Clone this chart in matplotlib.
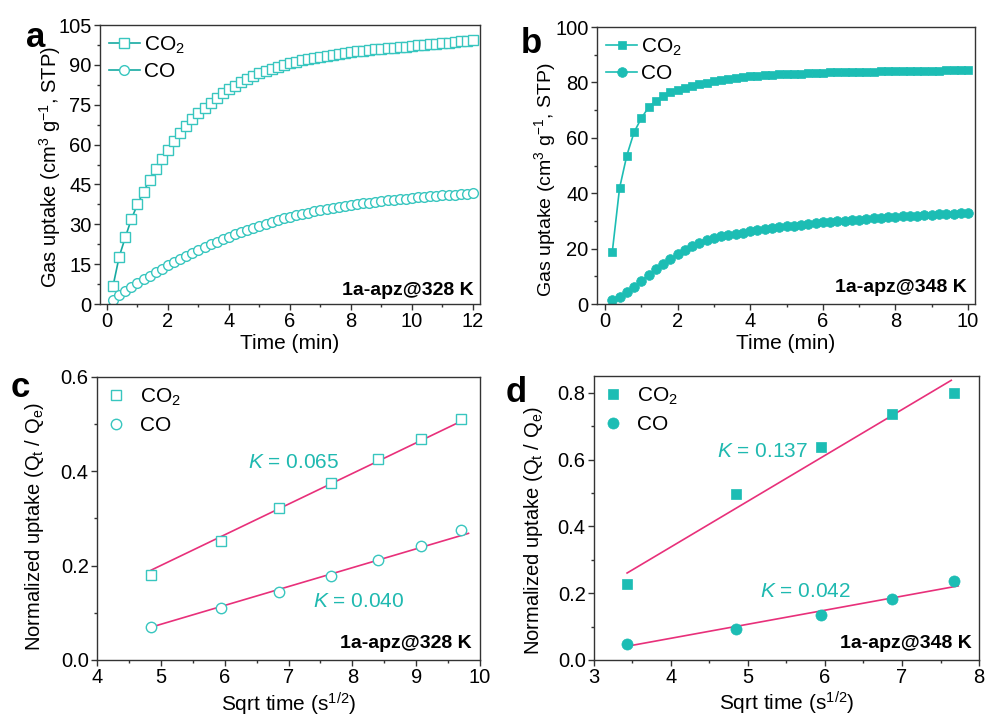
import numpy as np
import matplotlib
matplotlib.use("Agg")
import matplotlib.pyplot as plt
from matplotlib.ticker import MultipleLocator, FormatStrFormatter

plt.rcParams["font.family"] = ["Liberation Sans", "DejaVu Sans"]
plt.rcParams["mathtext.fontset"] = "custom"
plt.rcParams["mathtext.rm"] = "Liberation Sans"
plt.rcParams["mathtext.it"] = "Liberation Sans:italic"
plt.rcParams["mathtext.bf"] = "Liberation Sans:bold"

# ---------------- data ----------------
# (a) uptake kinetics at 328 K, sampled every 0.2 min
time_328 = np.round(np.arange(0.2, 12.01, 0.2), 1)
co2_328 = [6.9, 17.8, 25.1, 32.0, 37.5, 42.3, 46.7, 50.8, 54.6, 58.0,
           61.5, 64.5, 67.1, 69.6, 71.8, 73.9, 75.8, 77.7, 79.3, 80.8,
           82.2, 83.4, 84.7, 85.8, 86.8, 87.8, 88.6, 89.3, 90.0, 90.6,
           91.2, 91.7, 92.2, 92.7, 93.1, 93.5, 93.9, 94.2, 94.5, 94.8,
           95.1, 95.4, 95.6, 95.9, 96.1, 96.3, 96.5, 96.7, 96.9, 97.1,
           97.3, 97.5, 97.7, 97.9, 98.1, 98.3, 98.6, 98.9, 99.1, 99.4]
co_328 = [1.5, 3.4, 5.0, 6.5, 8.0, 9.4, 10.7, 12.0, 13.3, 14.5,
          15.7, 16.9, 18.0, 19.1, 20.2, 21.3, 22.4, 23.4, 24.4, 25.4,
          26.3, 27.1, 27.9, 28.7, 29.4, 30.1, 30.8, 31.5, 32.2, 32.9,
          33.4, 33.9, 34.4, 34.9, 35.3, 35.7, 36.1, 36.5, 36.9, 37.3,
          37.6, 37.9, 38.2, 38.5, 38.8, 39.1, 39.3, 39.5, 39.7, 39.9,
          40.1, 40.3, 40.5, 40.7, 40.9, 41.0, 41.2, 41.3, 41.5, 41.7]

# (b) uptake kinetics at 348 K, sampled every 0.2 min
time_348 = np.round(np.arange(0.2, 10.01, 0.2), 1)
co2_348 = [18.8, 41.8, 53.6, 62.0, 67.1, 71.0, 73.4, 75.0, 76.4, 77.3,
           78.0, 78.7, 79.3, 79.9, 80.4, 80.9, 81.3, 81.7, 82.0, 82.3,
           82.5, 82.7, 82.8, 82.9, 83.0, 83.1, 83.2, 83.3, 83.4, 83.5,
           83.6, 83.6, 83.7, 83.8, 83.8, 83.9, 83.9, 84.0, 84.0, 84.1,
           84.1, 84.2, 84.2, 84.3, 84.3, 84.3, 84.4, 84.4, 84.4, 84.5]
co_348 = [1.6, 2.6, 4.4, 6.3, 8.4, 10.6, 12.6, 14.5, 16.3, 18.0,
          19.5, 20.9, 22.1, 23.0, 23.8, 24.4, 24.9, 25.4, 25.8, 26.2,
          26.6, 27.0, 27.3, 27.7, 28.0, 28.3, 28.6, 28.9, 29.2, 29.5,
          29.7, 29.9, 30.1, 30.3, 30.5, 30.7, 30.9, 31.1, 31.3, 31.5,
          31.6, 31.8, 31.9, 32.1, 32.2, 32.4, 32.5, 32.6, 32.8, 32.9]

# (c) normalized uptake vs sqrt(t) at 328 K
sqrt_t_328 = [4.85, 5.94, 6.85, 7.67, 8.40, 9.07, 9.70]
norm_co2_328 = [0.180, 0.253, 0.322, 0.376, 0.427, 0.469, 0.512]
norm_co_328 = [0.069, 0.110, 0.144, 0.178, 0.211, 0.242, 0.275]
k_co2_328, k_co_328 = 0.065, 0.040

# (d) normalized uptake vs sqrt(t) at 348 K
sqrt_t_348 = [3.43, 4.85, 5.95, 6.87, 7.68]
norm_co2_348 = [0.226, 0.498, 0.636, 0.737, 0.798]
norm_co_348 = [0.049, 0.092, 0.134, 0.182, 0.237]
k_co2_348, k_co_348 = 0.137, 0.042

# ---------------- style ----------------
TEAL = "#1CBDB4"
TEAL_EDGE = "#38C6BF"
TEAL_LINE = "#17AAA2"
TEAL_TEXT = "#1FB9B0"
PINK = "#E8307A"
SPINE = "#333333"
FS_TICK = 14.5
FS_LABEL = 15
FS_LEG = 15
FS_TAG = 14
NORM_LABEL = r"Normalized uptake (Q$_\mathrm{t}$ / Q$_\mathrm{e}$)"
UPTAKE_LABEL = "Gas uptake (cm$^3$ g$^{-1}$, STP)"

fig = plt.figure(figsize=(9.87, 7.17), dpi=100)
ax_a = fig.add_axes([0.1013, 0.5760, 0.3850, 0.3891])
ax_b = fig.add_axes([0.6049, 0.5760, 0.3829, 0.3863])
ax_c = fig.add_axes([0.0983, 0.0795, 0.3880, 0.3947])
ax_d = fig.add_axes([0.6018, 0.0795, 0.3901, 0.3961])


def style_axes(ax, xmaj, xmin, ymaj, ymin):
    for sp in ax.spines.values():
        sp.set_color(SPINE)
        sp.set_linewidth(1.0)
    ax.xaxis.set_major_locator(MultipleLocator(xmaj))
    ax.xaxis.set_minor_locator(MultipleLocator(xmin))
    ax.yaxis.set_major_locator(MultipleLocator(ymaj))
    ax.yaxis.set_minor_locator(MultipleLocator(ymin))
    ax.tick_params(which="both", direction="out", top=False, right=False,
                   color=SPINE, width=1.0, labelsize=FS_TICK)
    ax.tick_params(which="major", length=4.0, pad=2.0)
    ax.tick_params(which="minor", length=2.2)


def fit_intercept(x, y, k):
    # least-squares intercept for the fixed slope k
    return np.mean(y) - k * np.mean(x)


def add_legend(ax, handlelength, textpad, spacing):
    ax.legend(loc="upper left", bbox_to_anchor=(0.0, 1.0), frameon=False,
              fontsize=FS_LEG, handlelength=handlelength,
              handletextpad=textpad, labelspacing=spacing,
              borderpad=0.25, borderaxespad=0.2)


# ---- (a)
ax_a.plot(time_328, co2_328, "-", color=TEAL_LINE, lw=1.2, marker="s", ms=6.6,
          mfc="white", mec=TEAL_EDGE, mew=1.0, label="CO$_2$")
ax_a.plot(time_328, co_328, "-", color=TEAL_LINE, lw=1.2, marker="o", ms=7.0,
          mfc="white", mec=TEAL_EDGE, mew=1.0, label="CO")
ax_a.set_xlim(-0.23, 12.23)
ax_a.set_ylim(0, 105)
style_axes(ax_a, 2, 1, 15, 7.5)
ax_a.set_xlabel("Time (min)", fontsize=FS_LABEL)
ax_a.set_ylabel(UPTAKE_LABEL, fontsize=14.5)
ax_a.xaxis.set_label_coords(0.5, -0.108)
ax_a.yaxis.set_label_coords(-0.097, 0.49)
add_legend(ax_a, 1.45, 0.2, 0.3)
ax_a.text(0.982, 0.032, "1a-apz@328 K", transform=ax_a.transAxes,
          ha="right", va="baseline", fontsize=FS_TAG, fontweight="bold")

# ---- (b)
ax_b.plot(time_348, co2_348, "-", color=TEAL, lw=1.2, marker="s", ms=6.2,
          mfc=TEAL, mec=TEAL, mew=0.5, label="CO$_2$")
ax_b.plot(time_348, co_348, "-", color=TEAL, lw=1.2, marker="o", ms=7.0,
          mfc=TEAL, mec=TEAL, mew=0.5, label="CO")
ax_b.set_xlim(-0.22, 10.19)
ax_b.set_ylim(0, 100)
style_axes(ax_b, 2, 1, 20, 10)
ax_b.set_xlabel("Time (min)", fontsize=FS_LABEL)
ax_b.set_ylabel(UPTAKE_LABEL, fontsize=14)
ax_b.xaxis.set_label_coords(0.5, -0.110)
ax_b.yaxis.set_label_coords(-0.103, 0.448)
add_legend(ax_b, 1.45, 0.2, 0.3)
ax_b.text(0.979, 0.043, "1a-apz@348 K", transform=ax_b.transAxes,
          ha="right", va="baseline", fontsize=FS_TAG, fontweight="bold")

# ---- (c)
ax_c.plot(sqrt_t_328, norm_co2_328, "s", ms=7.0, mfc="white", mec=TEAL_EDGE,
          mew=1.0, label="CO$_2$", zorder=3)
ax_c.plot(sqrt_t_328, norm_co_328, "o", ms=7.5, mfc="white", mec=TEAL_EDGE,
          mew=1.0, label="CO", zorder=3)
for xs, ys, k, ext in [(sqrt_t_328, norm_co2_328, k_co2_328, 0.0),
                       (sqrt_t_328, norm_co_328, k_co_328, 0.12)]:
    b0 = fit_intercept(xs, ys, k)
    xl = np.array([xs[0], xs[-1] + ext])
    ax_c.plot(xl, k * xl + b0, "-", color=PINK, lw=1.2, zorder=2)
ax_c.set_xlim(4, 10)
ax_c.set_ylim(0, 0.6)
style_axes(ax_c, 1, 0.5, 0.2, 0.1)
ax_c.yaxis.set_major_formatter(FormatStrFormatter("%.1f"))
ax_c.set_xlabel("Sqrt time (s$^{1/2}$)", fontsize=FS_LABEL)
ax_c.set_ylabel(NORM_LABEL, fontsize=14.5)
ax_c.xaxis.set_label_coords(0.5, -0.108)
ax_c.yaxis.set_label_coords(-0.133, 0.47)
add_legend(ax_c, 0.9, 0.7, 0.42)
ax_c.text(6.37, 0.407, "$K$ = %.3f" % k_co2_328, color=TEAL_TEXT, fontsize=15)
ax_c.text(7.38, 0.112, "$K$ = %.3f" % k_co_328, color=TEAL_TEXT, fontsize=15)
ax_c.text(0.979, 0.042, "1a-apz@328 K", transform=ax_c.transAxes,
          ha="right", va="baseline", fontsize=FS_TAG, fontweight="bold")

# ---- (d)
ax_d.plot(sqrt_t_348, norm_co2_348, "s", ms=7.0, mfc=TEAL, mec=TEAL,
          mew=0.5, label="CO$_2$", zorder=3)
ax_d.plot(sqrt_t_348, norm_co_348, "o", ms=8.0, mfc=TEAL, mec=TEAL,
          mew=0.5, label="CO", zorder=3)
for xs, ys, k, ext in [(sqrt_t_348, norm_co2_348, k_co2_348, -0.04),
                       (sqrt_t_348, norm_co_348, k_co_348, 0.05)]:
    b0 = fit_intercept(xs, ys, k)
    xl = np.array([xs[0], xs[-1] + ext])
    ax_d.plot(xl, k * xl + b0, "-", color=PINK, lw=1.2, zorder=2)
ax_d.set_xlim(3, 8)
ax_d.set_ylim(0, 0.85)
style_axes(ax_d, 1, 0.5, 0.2, 0.1)
ax_d.yaxis.set_major_formatter(FormatStrFormatter("%.1f"))
ax_d.set_xlabel("Sqrt time (s$^{1/2}$)", fontsize=FS_LABEL)
ax_d.set_ylabel(NORM_LABEL, fontsize=14.5)
ax_d.xaxis.set_label_coords(0.5, -0.104)
ax_d.yaxis.set_label_coords(-0.127, 0.455)
add_legend(ax_d, 0.9, 0.7, 0.42)
ax_d.text(4.60, 0.608, "$K$ = %.3f" % k_co2_348, color=TEAL_TEXT, fontsize=15)
ax_d.text(5.16, 0.189, "$K$ = %.3f" % k_co_348, color=TEAL_TEXT, fontsize=15)
ax_d.text(0.982, 0.042, "1a-apz@348 K", transform=ax_d.transAxes,
          ha="right", va="baseline", fontsize=FS_TAG, fontweight="bold")

# panel letters
for x, y, s in [(0.0264, 0.9344, "a"), (0.528, 0.926, "b"),
                (0.0112, 0.4463, "c"), (0.5127, 0.4393, "d")]:
    fig.text(x, y, s, fontsize=25, fontweight="bold", va="baseline")

fig.savefig("out.png", dpi=100)
